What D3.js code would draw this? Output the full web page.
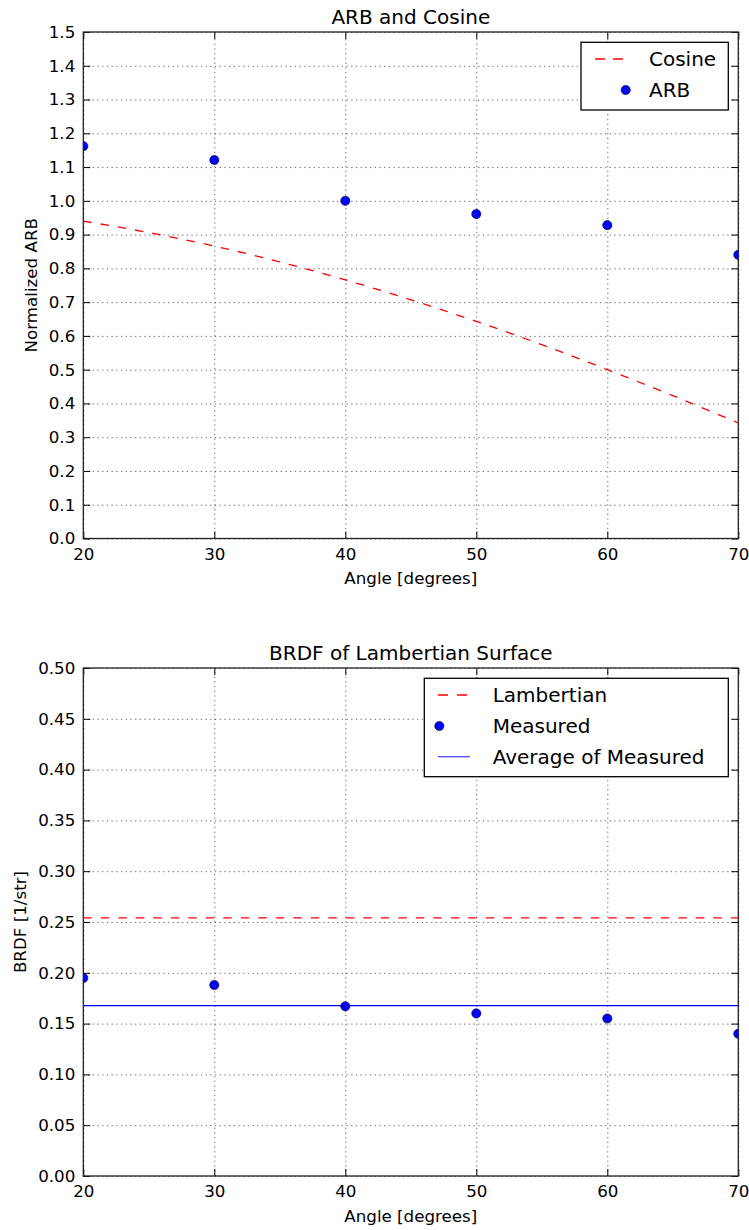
<!DOCTYPE html>
<html>
<head>
<meta charset="utf-8">
<script src="https://cdn.jsdelivr.net/npm/d3@7"></script>
<style>
  body { margin: 0; background: #fff; }
  text { font-family: "DejaVu Sans", sans-serif; fill: #000; }
</style>
</head>
<body>
<div id="chart"></div>
<script>
// ==== DATA ====
const angles = [20, 30, 40, 50, 60, 70];
const arbValues = [1.162, 1.121, 1.0, 0.961, 0.928, 0.84];
const cosineAngles = [20, 25, 30, 35, 40, 45, 50, 55, 60, 65, 70];
const cosineValues = [0.94, 0.906, 0.866, 0.819, 0.766, 0.707, 0.643, 0.574, 0.5, 0.423, 0.342];
const measuredBrdf = [0.195, 0.188, 0.167, 0.16, 0.155, 0.14];
const lambertianBrdf = 0.254;
const averageBrdf = 0.1676;

const xTicks = [20, 30, 40, 50, 60, 70];
const topYTicks = [0, 0.1, 0.2, 0.3, 0.4, 0.5, 0.6, 0.7, 0.8, 0.9, 1.0, 1.1, 1.2, 1.3, 1.4, 1.5];
const bottomYTicks = [0, 0.05, 0.1, 0.15, 0.2, 0.25, 0.3, 0.35, 0.4, 0.45, 0.5];

window.onload = function () {
  const svg = d3
    .select("#chart")
    .append("svg")
    .attr("width", 749)
    .attr("height", 1230);

  const left = 83.3;
  const right = 738.3;
  const tickFont = "16.7px";

  const x = (top, bottom) => d3.scaleLinear().domain([20, 70]).range([left, right]);

  // draws frame, grid, ticks, labels; returns scales + clipped group
  function panel(id, top, bottom, yMax, yTicks, fmt, title, yLabel, yLabelX) {
    const xs = d3.scaleLinear().domain([20, 70]).range([left, right]);
    const ys = d3.scaleLinear().domain([0, yMax]).range([bottom, top]);
    const w = right - left;
    const h = bottom - top;

    svg.append("defs")
      .append("clipPath")
      .attr("id", id)
      .append("rect")
      .attr("x", left)
      .attr("y", top)
      .attr("width", w)
      .attr("height", h);

    // grid
    const gridY = svg.append("g")
      .attr("transform", `translate(${left},0)`)
      .call(d3.axisLeft(ys).tickValues(yTicks).tickSize(-w).tickFormat(""));
    const gridX = svg.append("g")
      .attr("transform", `translate(0,${bottom})`)
      .call(d3.axisBottom(xs).tickValues(xTicks).tickSize(-h).tickFormat(""));
    [gridY, gridX].forEach((g) => {
      g.select(".domain").remove();
      g.selectAll("line")
        .attr("stroke", "#000")
        .attr("stroke-width", 0.8)
        .attr("stroke-dasharray", "1.3,3.4")
        .attr("opacity", 0.75);
    });

    // axes with inward ticks
    const axB = svg.append("g")
      .attr("transform", `translate(0,${bottom})`)
      .call(d3.axisBottom(xs).tickValues(xTicks).tickSizeInner(-7).tickSizeOuter(0).tickPadding(9.6).tickFormat(d3.format("d")));
    const axL = svg.append("g")
      .attr("transform", `translate(${left},0)`)
      .call(d3.axisLeft(ys).tickValues(yTicks).tickSizeInner(-7).tickSizeOuter(0).tickPadding(8).tickFormat(d3.format(fmt)));
    const axT = svg.append("g")
      .attr("transform", `translate(0,${top})`)
      .call(d3.axisTop(xs).tickValues(xTicks).tickSizeInner(-7).tickSizeOuter(0).tickFormat(""));
    const axR = svg.append("g")
      .attr("transform", `translate(${right},0)`)
      .call(d3.axisRight(ys).tickValues(yTicks).tickSizeInner(-7).tickSizeOuter(0).tickFormat(""));
    [axB, axL, axT, axR].forEach((g) => {
      g.select(".domain").remove();
      g.selectAll("line").attr("stroke", "#000").attr("stroke-width", 1);
      g.selectAll("text")
        .attr("font-family", "DejaVu Sans")
        .attr("font-size", tickFont)
        .attr("fill", "#000");
    });

    // frame
    svg.append("rect")
      .attr("x", left)
      .attr("y", top)
      .attr("width", w)
      .attr("height", h)
      .attr("fill", "none")
      .attr("stroke", "#222")
      .attr("stroke-width", 1.3);

    // title + labels
    svg.append("text")
      .attr("x", (left + right) / 2)
      .attr("y", top - 8)
      .attr("text-anchor", "middle")
      .attr("font-size", "20px")
      .text(title);

    svg.append("text")
      .attr("x", (left + right) / 2)
      .attr("y", bottom + 45.5)
      .attr("text-anchor", "middle")
      .attr("font-size", tickFont)
      .text("Angle [degrees]");

    svg.append("text")
      .attr("transform", `translate(${yLabelX},${(top + bottom) / 2}) rotate(-90)`)
      .attr("text-anchor", "middle")
      .attr("font-size", tickFont)
      .text(yLabel);

    const plot = svg.append("g").attr("clip-path", `url(#${id})`);
    return { xs, ys, plot };
  }

  function legendBox(x0, y0, x1, y1) {
    svg.append("rect")
      .attr("x", x0)
      .attr("y", y0)
      .attr("width", x1 - x0)
      .attr("height", y1 - y0)
      .attr("fill", "#fff")
      .attr("stroke", "#000")
      .attr("stroke-width", 1.3);
  }

  function legendText(x, y, label) {
    svg.append("text")
      .attr("x", x)
      .attr("y", y)
      .attr("dy", "0.36em")
      .attr("font-size", "20px")
      .text(label);
  }

  // ==== TOP: ARB and Cosine ====
  const a = panel("clipTop", 32, 538.5, 1.5, topYTicks, ".1f", "ARB and Cosine", "Normalized ARB", 36.5);

  const cosLine = d3.line()
    .x((d, i) => a.xs(cosineAngles[i]))
    .y((d) => a.ys(d))
    .curve(d3.curveMonotoneX);

  a.plot.append("path")
    .datum(cosineValues)
    .attr("d", cosLine)
    .attr("fill", "none")
    .attr("stroke", "#ff0000")
    .attr("stroke-width", 1.3)
    .attr("stroke-dasharray", "8.5,9");

  a.plot.selectAll(".arb")
    .data(arbValues)
    .enter()
    .append("circle")
    .attr("cx", (d, i) => a.xs(angles[i]))
    .attr("cy", (d) => a.ys(d))
    .attr("r", 4.6)
    .attr("fill", "#0000ff")
    .attr("stroke", "#000")
    .attr("stroke-width", 0.6);

  legendBox(581, 42.3, 728.3, 110);
  svg.append("line")
    .attr("x1", 595).attr("x2", 623)
    .attr("y1", 59).attr("y2", 59)
    .attr("stroke", "#ff0000")
    .attr("stroke-width", 1.3)
    .attr("stroke-dasharray", "10,8");
  legendText(649, 59, "Cosine");
  svg.append("circle")
    .attr("cx", 625.7).attr("cy", 90)
    .attr("r", 4.6)
    .attr("fill", "#0000ff")
    .attr("stroke", "#000")
    .attr("stroke-width", 0.6);
  legendText(649, 90, "ARB");

  // ==== BOTTOM: BRDF of Lambertian Surface ====
  const b = panel("clipBottom", 668, 1176, 0.5, bottomYTicks, ".2f", "BRDF of Lambertian Surface", "BRDF [1/str]", 25.5);

  b.plot.append("line")
    .attr("x1", b.xs(20)).attr("x2", b.xs(70))
    .attr("y1", b.ys(lambertianBrdf)).attr("y2", b.ys(lambertianBrdf))
    .attr("stroke", "#ff0000")
    .attr("stroke-width", 1.3)
    .attr("stroke-dasharray", "8.5,9");

  b.plot.append("line")
    .attr("x1", b.xs(20)).attr("x2", b.xs(70))
    .attr("y1", b.ys(averageBrdf)).attr("y2", b.ys(averageBrdf))
    .attr("stroke", "#0000ff")
    .attr("stroke-width", 1.3);

  b.plot.selectAll(".measured")
    .data(measuredBrdf)
    .enter()
    .append("circle")
    .attr("cx", (d, i) => b.xs(angles[i]))
    .attr("cy", (d) => b.ys(d))
    .attr("r", 4.6)
    .attr("fill", "#0000ff")
    .attr("stroke", "#000")
    .attr("stroke-width", 0.6);

  legendBox(424.3, 678.3, 728.3, 776.7);
  svg.append("line")
    .attr("x1", 438).attr("x2", 467)
    .attr("y1", 695).attr("y2", 695)
    .attr("stroke", "#ff0000")
    .attr("stroke-width", 1.3)
    .attr("stroke-dasharray", "10,9");
  legendText(492.7, 695, "Lambertian");
  svg.append("circle")
    .attr("cx", 439.3).attr("cy", 726)
    .attr("r", 4.6)
    .attr("fill", "#0000ff")
    .attr("stroke", "#000")
    .attr("stroke-width", 0.6);
  legendText(492.7, 726, "Measured");
  svg.append("line")
    .attr("x1", 438).attr("x2", 470)
    .attr("y1", 756.7).attr("y2", 756.7)
    .attr("stroke", "#4a4aff")
    .attr("stroke-width", 1.3);
  legendText(492.7, 756.7, "Average of Measured");
};
</script>
</body>
</html>
